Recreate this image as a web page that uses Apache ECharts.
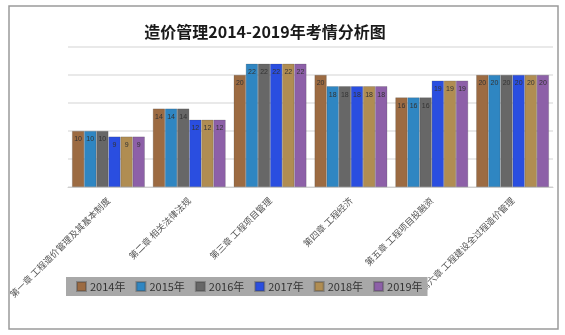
<!DOCTYPE html>
<html>
<head>
<meta charset="utf-8">
<script src="https://cdn.jsdelivr.net/npm/echarts@6/dist/echarts.min.js"></script>
<style>
  html, body { margin: 0; padding: 0; background: #fff; }
  #chart { width: 565px; height: 335px; }
</style>
</head>
<body>
<div id="chart"></div>
<script>
// Chapters of the cost-management syllabus
const categories = [
  '第一章 工程造价管理及其基本制度',
  '第二章 相关法律法规',
  '第三章 工程项目管理',
  '第四章 工程经济',
  '第五章 工程项目投融资',
  '第六章 工程建设全过程造价管理'
];
// Exam scores per chapter, one array per year
const years = ['2014年', '2015年', '2016年', '2017年', '2018年', '2019年'];
const y2014 = [10, 14, 20, 20, 16, 20];
const y2015 = [10, 14, 22, 18, 16, 20];
const y2016 = [10, 14, 22, 18, 16, 20];
const y2017 = [9, 12, 22, 18, 19, 20];
const y2018 = [9, 12, 22, 18, 19, 20];
const y2019 = [9, 12, 22, 18, 19, 20];
const yearData = [y2014, y2015, y2016, y2017, y2018, y2019];
const colors = ['#9c6b42', '#2f86c2', '#676767', '#2a4ee0', '#b08d52', '#8d60a8'];

const chart = echarts.init(document.getElementById('chart'));
chart.setOption({
  animation: false,
  color: colors,
  title: {
    text: '造价管理2014-2019年考情分析图',
    left: 260,
    textAlign: 'center',
    top: 19,
    textStyle: { fontSize: 16, fontWeight: 'bold', color: '#1a1a1a', fontFamily: 'Noto Sans CJK SC' }
  },
  graphic: [{
    type: 'rect',
    shape: { x: 9, y: 6, width: 549, height: 323 },
    style: { fill: 'none', stroke: '#9a9a9a', lineWidth: 1.5 },
    silent: true
  }],
  legend: {
    data: years,
    left: 66,
    top: 277,
    backgroundColor: '#a8a8a8',
    padding: [4, 5, 4, 10],
    itemWidth: 9,
    itemHeight: 9,
    itemGap: 10,
    icon: 'rect',
    textStyle: { fontSize: 11, color: '#333', fontFamily: 'Noto Sans CJK SC', padding: [0, 0, 0, -1] }
  },
  grid: { left: 68, right: 12, top: 47, bottom: 148, containLabel: false },
  xAxis: {
    type: 'category',
    data: categories,
    axisLine: { lineStyle: { color: '#cfcfcf' } },
    axisTick: { show: false },
    axisLabel: {
      rotate: 45,
      interval: 0,
      fontSize: 9,
      color: '#555',
      fontFamily: 'Noto Sans CJK SC',
      margin: 12
    }
  },
  yAxis: {
    type: 'value',
    min: 0,
    max: 25,
    interval: 5,
    axisLabel: { show: false },
    axisLine: { show: false },
    axisTick: { show: false },
    splitLine: { lineStyle: { color: '#e2e2e2', width: 1.5 } }
  },
  series: years.map((name, i) => ({
    name: name,
    type: 'bar',
    data: yearData[i],
    barGap: '0%',
    barCategoryGap: '10%',
    itemStyle: { borderColor: 'rgba(60,60,60,0.35)', borderWidth: 0.6 },
    label: {
      show: true,
      position: 'insideTop',
      distance: 5,
      fontSize: 7,
      color: '#333'
    }
  }))
});
</script>
</body>
</html>
